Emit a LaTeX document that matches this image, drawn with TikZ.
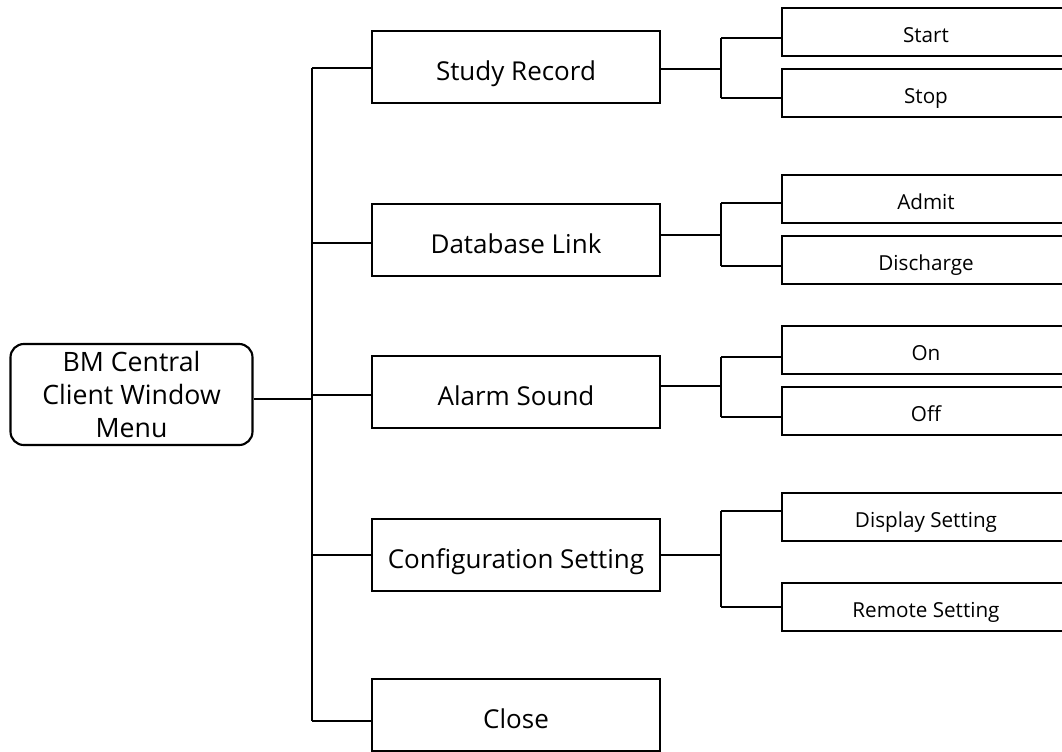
\documentclass[tikz,border=0pt]{standalone}
\usepackage{fontspec}
\setmainfont{Open Sans}
\begin{document}
\begin{tikzpicture}[x=0.75pt,y=-0.75pt,
  line width=1.6pt,
  box/.style={draw,rectangle,inner sep=0pt,minimum height=54pt,minimum width=216pt,text height=20.5pt,text depth=0pt,font=\fontsize{19.5pt}{24pt}\selectfont},
  leaf/.style={draw,rectangle,inner sep=0pt,minimum height=36pt,minimum width=216pt,text height=15.8pt,text depth=0pt,font=\fontsize{15.5pt}{19pt}\selectfont},
  rootbox/.style={draw,rectangle,rounded corners=10pt,inner sep=0pt,minimum height=75.75pt,minimum width=181.5pt,align=center,font=\fontsize{20pt}{24.75pt}\selectfont}]
\useasboundingbox (0,0) rectangle (1062,751);
\clip (0,0) rectangle (1062,751);
% root
\node[rootbox] (root) at (131.5,394.5) {BM Central\\Client Window\\Menu};
% level 1
\node[box] (study) at (516,67) {Study Record};
\node[box] (db) at (516,240) {Database Link};
\node[box] (alarm) at (516,392) {Alarm Sound};
\node[box] (config) at (516,555) {Configuration Setting};
\node[box] (close) at (516,715) {Close};
% level 2
\node[leaf] (start) at (926,32) {Start};
\node[leaf] (stop) at (926,93) {Stop};
\node[leaf] (admit) at (926,199) {Admit};
\node[leaf] (discharge) at (926,260) {Discharge};
\node[leaf] (on) at (926,350) {On};
\node[leaf] (off) at (926,411) {Off};
\node[leaf] (display) at (926,517) {Display Setting};
\node[leaf] (remote) at (926,607) {Remote Setting};
% trunk
\coordinate (tStudy) at (312,68);
\coordinate (tDb) at (312,243);
\coordinate (tRoot) at (312,399);
\coordinate (tAlarm) at (312,395);
\coordinate (tConfig) at (312,555);
\coordinate (tClose) at (312,721);
\draw (tStudy) -- (tClose);
\draw (root.east |- tRoot) -- (tRoot);
\draw (tStudy) -- (study.west |- tStudy);
\draw (tDb) -- (db.west |- tDb);
\draw (tAlarm) -- (alarm.west |- tAlarm);
\draw (tConfig) -- (config.west |- tConfig);
\draw (tClose) -- (close.west |- tClose);
% branches
\coordinate (bStudy) at (721,69);
\coordinate (bStart) at (721,38);
\coordinate (bStop) at (721,98);
\draw (study.east |- bStudy) -- (bStudy);
\draw (bStart) -- (bStop);
\draw (bStart) -- (start.west |- bStart);
\draw (bStop) -- (stop.west |- bStop);
\coordinate (bDb) at (721,235);
\coordinate (bAdmit) at (721,203);
\coordinate (bDischarge) at (721,266);
\draw (db.east |- bDb) -- (bDb);
\draw (bAdmit) -- (bDischarge);
\draw (bAdmit) -- (admit.west |- bAdmit);
\draw (bDischarge) -- (discharge.west |- bDischarge);
\coordinate (bAlarm) at (721,386);
\coordinate (bOn) at (721,357);
\coordinate (bOff) at (721,417);
\draw (alarm.east |- bAlarm) -- (bAlarm);
\draw (bOn) -- (bOff);
\draw (bOn) -- (on.west |- bOn);
\draw (bOff) -- (off.west |- bOff);
\coordinate (bConfig) at (721,555);
\coordinate (bDisplay) at (721,511);
\coordinate (bRemote) at (721,607);
\draw (config.east |- bConfig) -- (bConfig);
\draw (bDisplay) -- (bRemote);
\draw (bDisplay) -- (display.west |- bDisplay);
\draw (bRemote) -- (remote.west |- bRemote);
\end{tikzpicture}
\end{document}
